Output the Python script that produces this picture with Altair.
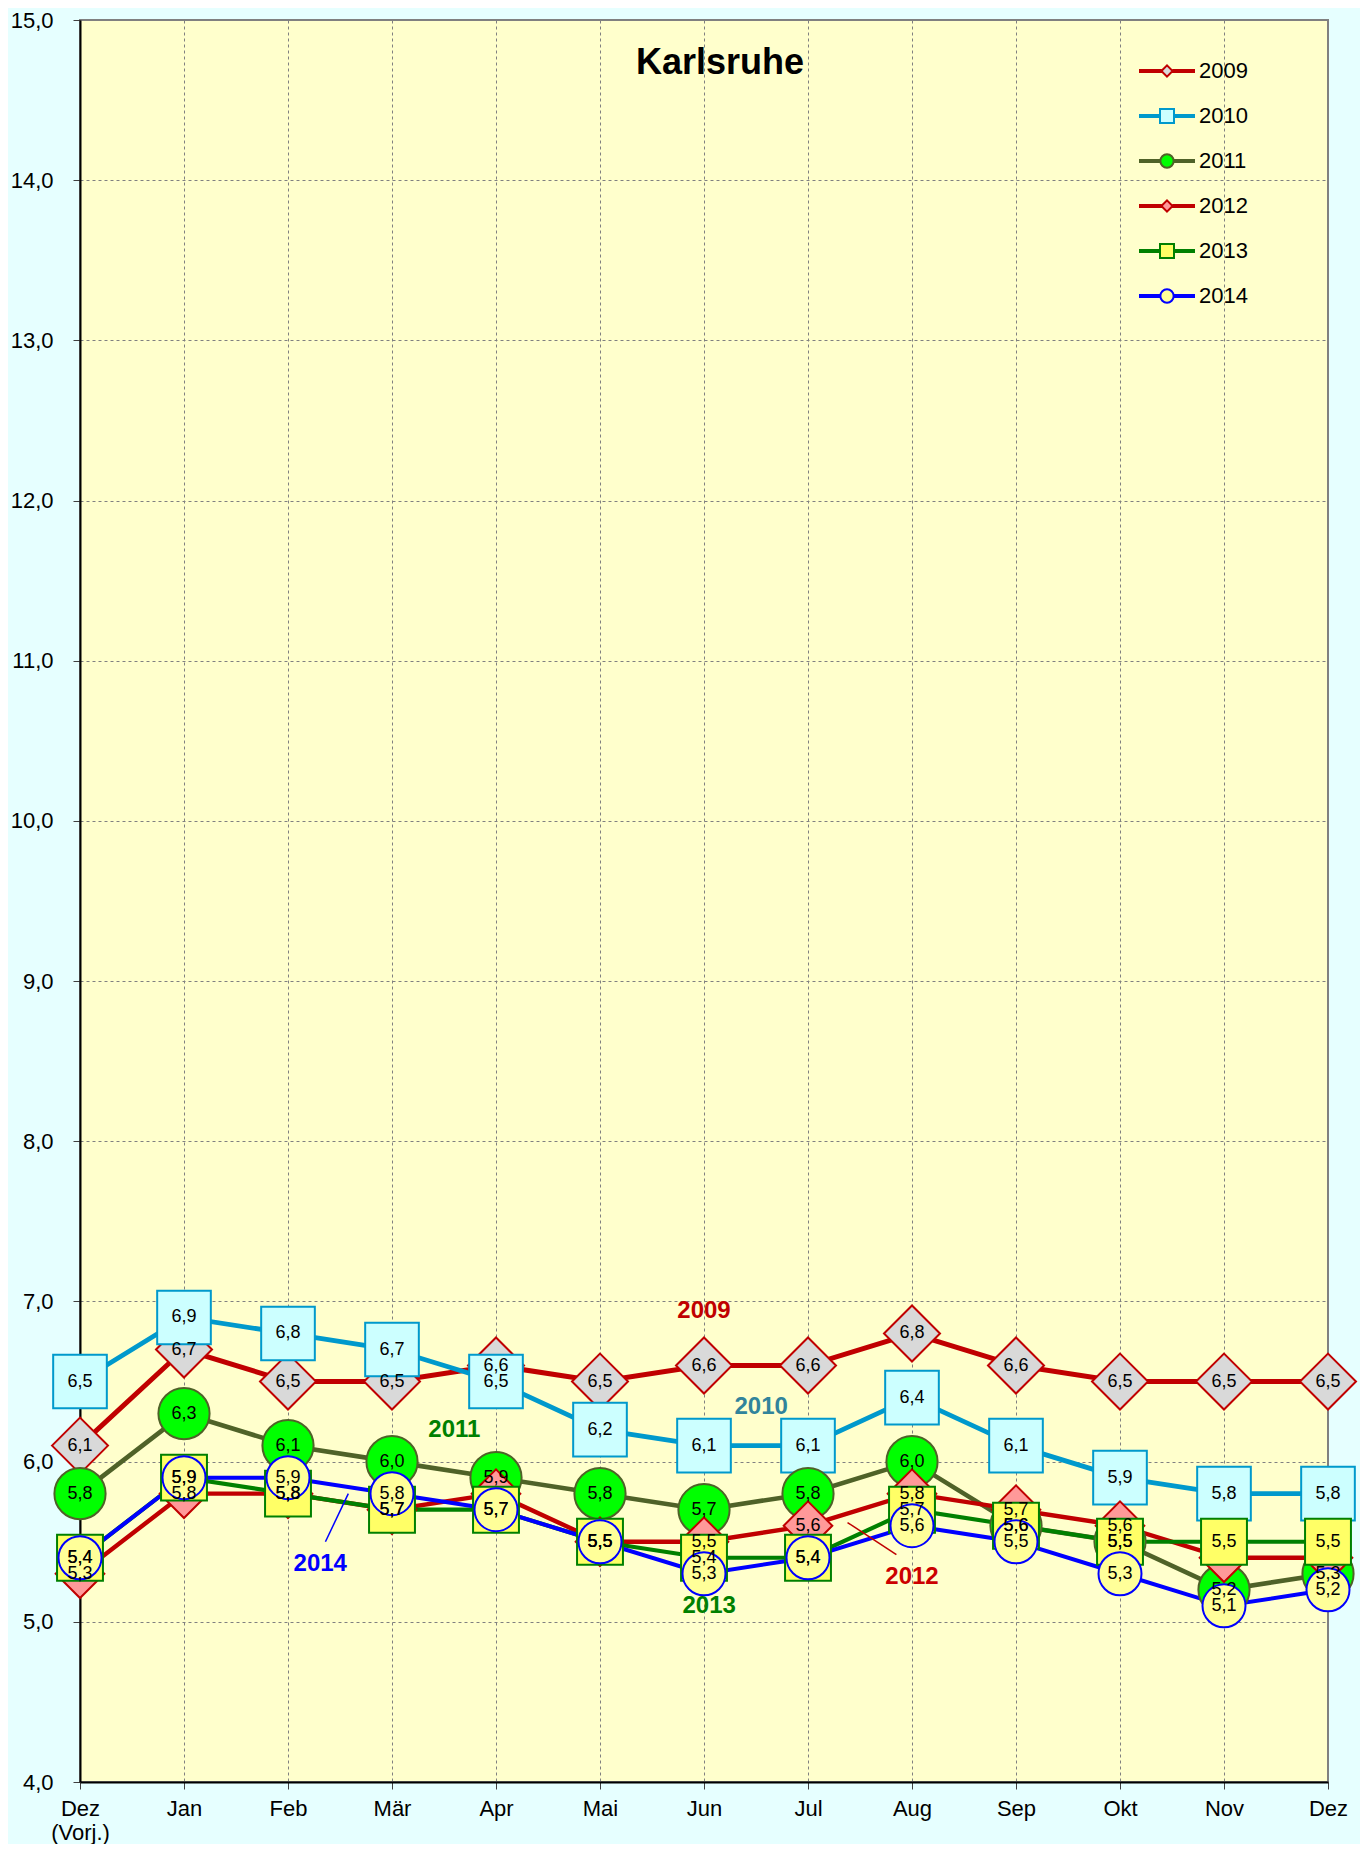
import json
import altair as alt
import pandas as pd

# ---------------- data ----------------
tick_labels = [["Dez", "(Vorj.)"], "Jan", "Feb", "Mär", "Apr", "Mai", "Jun",
               "Jul", "Aug", "Sep", "Okt", "Nov", "Dez"]
years = ["2009", "2010", "2011", "2012", "2013", "2014"]

v2009 = [6.1, 6.7, 6.5, 6.5, 6.6, 6.5, 6.6, 6.6, 6.8, 6.6, 6.5, 6.5, 6.5]
v2010 = [6.5, 6.9, 6.8, 6.7, 6.5, 6.2, 6.1, 6.1, 6.4, 6.1, 5.9, 5.8, 5.8]
v2011 = [5.8, 6.3, 6.1, 6.0, 5.9, 5.8, 5.7, 5.8, 6.0, 5.6, 5.5, 5.2, 5.3]
v2012 = [5.3, 5.8, 5.8, 5.7, 5.8, 5.5, 5.5, 5.6, 5.8, 5.7, 5.6, 5.4, 5.4]
v2013 = [5.4, 5.9, 5.8, 5.7, 5.7, 5.5, 5.4, 5.4, 5.7, 5.6, 5.5, 5.5, 5.5]
v2014 = [5.4, 5.9, 5.9, 5.8, 5.7, 5.5, 5.3, 5.4, 5.6, 5.5, 5.3, 5.1, 5.2]
series_values = [v2009, v2010, v2011, v2012, v2013, v2014]

# value labels that are not shown in the original (year, month index)
hidden_labels = [("2012", 4), ("2012", 11), ("2012", 12)]

# in-chart year annotations (data coordinates)
ann_text = ["2009", "2010", "2011", "2012", "2013", "2014"]
ann_x = [6.0, 6.55, 3.6, 8.0, 6.05, 2.31]
ann_y = [6.94, 6.34, 6.2, 5.28, 5.1, 5.36]
ann_colors = ["#C00000", "#31849B", "#008000", "#CC0000", "#008000", "#0000FF"]

leader_x = [2.58, 7.38]
leader_y = [5.80, 5.62]
leader_x2 = [2.36, 7.85]
leader_y2 = [5.50, 5.42]
leader_colors = ["#0000FF", "#C00000"]

# ---------------- styles ----------------
line_colors = ["#C00000", "#0099CC", "#4F6228", "#C00000", "#008000", "#0000FF"]
fill_colors = ["#D9D9D9", "#CCFFFF", "#00FF00", "#FF9999", "#FFFF66", "#FFFF99"]
shapes = ["diamond", "square", "circle", "diamond", "square", "circle"]
sizes = [3136, 1849, 2304, 3136, 1849, 2304]
line_widths = [5, 4, 4, 4, 4, 5]

_ln = "M-4,-0.143H{a}M-4,0.143H{a}M{b},-0.143H4M{b},0.143H4"
leg_diamond = _ln.format(a=-0.8, b=0.8) + "M-0.8,0L0,-0.8L0.8,0L0,0.8Z"
leg_square = _ln.format(a=-1, b=1) + "M-1,-1H1V1H-1Z"
leg_circle = _ln.format(a=-0.95, b=0.95) + "M-0.95,0A0.95,0.95,0,1,0,0.95,0A0.95,0.95,0,1,0,-0.95,0Z"
legend_paths = [leg_diamond, leg_square, leg_circle, leg_diamond, leg_square, leg_circle]

FONT = "Liberation Sans"

rows = []
for y, vals in zip(years, series_values):
    for i, v in enumerate(vals):
        rows.append({
            "year": y, "i": i, "value": v,
            "label": f"{v:.1f}".replace(".", ","),
            "show": (y, i) not in hidden_labels,
        })
df = pd.DataFrame(rows)

ann_df = pd.DataFrame({"text": ann_text, "i": ann_x, "value": ann_y, "color": ann_colors})
lead_df = pd.DataFrame({"i": leader_x, "value": leader_y, "i2": leader_x2,
                        "value2": leader_y2, "color": leader_colors})

label_expr_x = json.dumps(tick_labels, ensure_ascii=False) + "[datum.value]"

x_enc = alt.X("i:Q",
              scale=alt.Scale(domain=[0, 12], nice=False, zero=False),
              axis=alt.Axis(values=list(range(13)), labelExpr=label_expr_x, title=None,
                            grid=True, gridDash=[3, 3], gridColor="#808080", gridWidth=1,
                            tickSize=7, tickColor="#404040", labelFlush=False,
                            labelOverlap=False, labelPadding=9, labelLineHeight=24,
                            labelFontSize=22, labelFont=FONT, labelColor="black",
                            domainColor="black", domainWidth=2))
y_enc = alt.Y("value:Q",
              scale=alt.Scale(domain=[4, 15], nice=False, zero=False),
              axis=alt.Axis(values=list(range(4, 16)),
                            labelExpr="replace(format(datum.value, '.1f'), '.', ',')",
                            title=None, grid=True, gridDash=[3, 3], gridColor="#808080",
                            gridWidth=1, tickSize=7, tickColor="#404040", labelPadding=20,
                            labelFontSize=22, labelFont=FONT, labelColor="black",
                            domainColor="black", domainWidth=2))

leg = alt.Legend(title=None, orient="none", legendX=1076, legendY=40, direction="vertical",
                 labelFontSize=22, labelFont=FONT, labelColor="black", symbolSize=196,
                 symbolStrokeWidth=2, symbolOpacity=1, labelOffset=21, rowPadding=23,
                 padding=0)

legend_layer = alt.Chart(df).mark_point(opacity=0, strokeWidth=2).encode(
    x=x_enc, y=y_enc,
    shape=alt.Shape("year:N", scale=alt.Scale(domain=years, range=legend_paths), legend=leg),
    fill=alt.Fill("year:N", scale=alt.Scale(domain=years, range=fill_colors), legend=leg),
    stroke=alt.Stroke("year:N", scale=alt.Scale(domain=years, range=line_colors), legend=leg),
)

lines = alt.Chart(df).mark_line().encode(
    x=x_enc, y=y_enc, detail="year:N",
    stroke=alt.Stroke("year:N", scale=alt.Scale(domain=years, range=line_colors), legend=None),
    strokeWidth=alt.StrokeWidth("year:O", scale=alt.Scale(domain=years, range=line_widths),
                                legend=None),
)

points = alt.Chart(df).mark_point(strokeWidth=2, opacity=1, fillOpacity=1).encode(
    x=x_enc, y=y_enc,
    shape=alt.Shape("year:N", scale=alt.Scale(domain=years, range=shapes), legend=None),
    fill=alt.Fill("year:N", scale=alt.Scale(domain=years, range=fill_colors), legend=None),
    stroke=alt.Stroke("year:N", scale=alt.Scale(domain=years, range=line_colors), legend=None),
    size=alt.Size("year:O", scale=alt.Scale(domain=years, range=sizes), legend=None),
)

labels = alt.Chart(df).transform_filter("datum.show").mark_text(
    font=FONT, fontSize=18, color="black", align="center", baseline="middle"
).encode(x=x_enc, y=y_enc, text="label:N")

ann = alt.Chart(ann_df).mark_text(
    font=FONT, fontSize=24, fontWeight="bold", align="center", baseline="middle"
).encode(
    x=x_enc, y=y_enc,
    color=alt.Color("color:N", scale=None),
    text="text:N",
)

leaders = alt.Chart(lead_df).mark_rule(strokeWidth=1.5).encode(
    x=x_enc, y=y_enc, x2="i2:Q", y2="value2:Q",
    color=alt.Color("color:N", scale=None),
)

chart = alt.layer(legend_layer, lines, points, labels, ann, leaders).resolve_scale(
    shape="independent", fill="independent", stroke="independent",
    size="independent", strokeWidth="independent", color="independent",
).properties(
    width=1248, height=1762,
    title=alt.Title("Karlsruhe", font=FONT, fontSize=36, fontWeight="bold", color="black",
                    anchor="middle", frame="group", offset=-101, dx=16, baseline="alphabetic"),
    padding={"left": 72, "top": 12, "right": 32, "bottom": 62},
    autosize=alt.AutoSizeParams(type="none"),
    background="#E6FFFF",
).configure_view(
    fill="#FFFFCC", stroke="#808080", strokeWidth=2
)

chart.save("out.html", embed_options={"renderer": "svg", "actions": False})
